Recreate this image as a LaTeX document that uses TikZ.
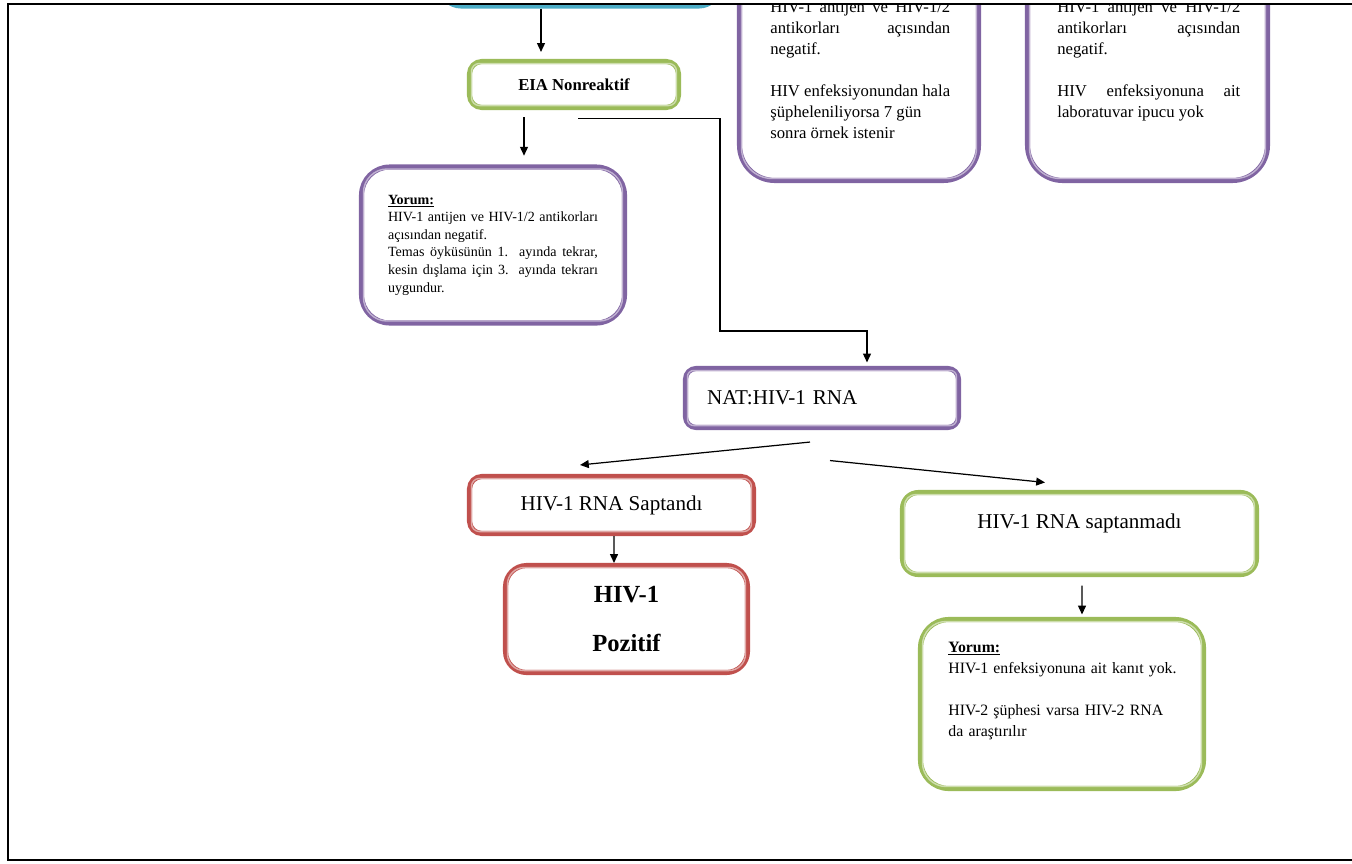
\documentclass[tikz,border=0pt]{standalone}
\usepackage{fontspec}
\setmainfont{Liberation Serif}
\usetikzlibrary{arrows.meta}
\definecolor{mor}{HTML}{8064A2}
\definecolor{yesil}{HTML}{9BBB59}
\definecolor{kirmizi}{HTML}{C0504D}
\definecolor{mavi}{HTML}{4BACC6}
\begin{document}
\begin{tikzpicture}[x=0.02cm,y=-0.02cm,
    kutu/.style 2 args={rectangle, draw=#1, line width=2.9pt, rounded corners=#2, fill=white},
    ok/.style={line width=0.7pt, -{Triangle[length=5pt,width=4.5pt]}},
    metin/.style={inner sep=0pt, align=justify}]
                        \useasboundingbox (0,0) rectangle (1352,863);

                        \begin{scope}
                        \clip (8,4) rectangle (1352,860);

                        % kutular
                        \node[kutu={mavi}{12pt}, minimum width=5.6cm, minimum height=1.44cm] (ust) at (580,-30) {};
                        \node[kutu={yesil}{7pt}, minimum width=4.18cm, minimum height=0.92cm,
                              font=\fontsize{9.5}{11}\selectfont\bfseries] (eia) at (574,84.5) {EIA Nonreaktif};
                        \node[kutu={mor}{16pt}, minimum width=5.26cm, minimum height=3.12cm, text width=4.2cm,
                              align=justify, font=\fontsize{8}{10}\selectfont] (yorum1) at (493,245)
                              {\textbf{\underline{Yorum:}}\\HIV-1 antijen ve HIV-1/2 antikorları açısından negatif.\\
                               Temas öyküsünün 1. ayında tekrar, \linebreak kesin dışlama için 3. ayında tekrarı uygundur.};
                        \node[kutu={mor}{20pt}, minimum width=4.78cm, minimum height=5.62cm] (ustsol) at (859,40) {};
                        \node[kutu={mor}{20pt}, minimum width=4.8cm, minimum height=5.62cm] (ustsag) at (1147.5,40) {};
                        \node[kutu={mor}{6pt}, minimum width=5.46cm, minimum height=1.18cm, text width=4.6cm,
                              inner xsep=0.43cm, align=left, font=\fontsize{12}{14}\selectfont] (nat) at (822,398) {NAT:HIV-1 RNA};
                        \node[kutu={kirmizi}{7pt}, minimum width=5.68cm, minimum height=1.14cm,
                              font=\fontsize{12}{14}\selectfont] (saptandi) at (611.5,505) {HIV-1 RNA Saptandı};
                        \node[kutu={kirmizi}{12pt}, minimum width=4.84cm, minimum height=2.14cm, align=center,
                              font=\fontsize{14}{16}\selectfont\bfseries] (pozitif) at (626.5,619) {HIV-1\\[12pt]Pozitif};
                        \node[kutu={yesil}{9pt}, minimum width=7.08cm, minimum height=1.64cm, text depth=14pt,
                              font=\fontsize{12}{14}\selectfont] (saptanmadi) at (1079.5,533.5) {HIV-1 RNA saptanmadı};
                        \node[kutu={yesil}{16pt}, minimum width=5.66cm, minimum height=3.38cm] (yorum2) at (1062,704) {};

                        % ic cizgiler
                        \foreach \n/\c/\r in {ust/mavi/12, eia/yesil/7, yorum1/mor/16, ustsol/mor/20, ustsag/mor/20,
                                              nat/mor/6, saptandi/kirmizi/7, pozitif/kirmizi/12,
                                              saptanmadi/yesil/9, yorum2/yesil/16}
                            \draw[\c!50, line width=0.8pt, rounded corners=\r pt-2.5pt]
                                ([shift={(4.5,-4.5)}]\n.south west) rectangle ([shift={(-4.5,4.5)}]\n.north east);

                        % metinler
                        \node[metin, anchor=base west, text width=3.6cm, font=\fontsize{9.5}{12}\selectfont] (ustsolmetin) at (770,12)
                              {HIV-1 antijen ve HIV-1/2 \linebreak antikorları açısından \linebreak negatif.\par\vspace{12pt}
                               HIV enfeksiyonundan hala\\şüpheleniliyorsa 7 gün\\sonra örnek istenir};
                        \node[metin, anchor=base west, text width=3.66cm, font=\fontsize{9.5}{12}\selectfont] (ustsagmetin) at (1057,12)
                              {HIV-1 antijen ve HIV-1/2 \linebreak antikorları açısından \linebreak negatif.\par\vspace{12pt}
                               HIV enfeksiyonuna ait \linebreak laboratuvar ipucu yok};
                        \node[metin, anchor=base west, text width=4.6cm, align=left, font=\fontsize{9}{12}\selectfont] (yorum2metin) at (948,652)
                              {\textbf{\underline{Yorum:}}\\HIV-1 enfeksiyonuna ait kanıt yok.\\[12pt]
                               HIV-2 şüphesi varsa HIV-2 RNA\\da araştırılır};

                        % oklar
                        \coordinate (kirik) at (720,331);
                        \draw[ok, shorten >=4pt] ([shift={(-39,0)}]ust.south) -- ([shift={(-33,0)}]eia.north);
                        \draw[ok, shorten <=4pt, shorten >=5pt] ([shift={(-50,0)}]eia.south) -- ([shift={(31,0)}]yorum1.north);
                        \draw[ok, shorten >=2pt] ([shift={(4,8.5)}]eia.south) -| (kirik) -| ([shift={(45,0)}]nat.north);
                        \draw[ok] ([shift={(-12,12)}]nat.south) -- ([shift={(-31.5,-9)}]saptandi.north);
                        \draw[ok] ([shift={(8,30.5)}]nat.south) -- ([shift={(-34.5,-7.5)}]saptanmadi.north);
                        \draw[ok] ([shift={(2.5,0)}]saptandi.south) -- ([shift={(-12.5,0)}]pozitif.north);
                        \draw[ok] ([shift={(2.5,8.5)}]saptanmadi.south) -- ([shift={(20,-2.5)}]yorum2.north);
                        \end{scope}

                        % cerceve
                        \draw[line width=1.2pt] (1352,4) -- (8,4) -- (8,860) -- (1352,860);
                    \end{tikzpicture}
\end{document}
